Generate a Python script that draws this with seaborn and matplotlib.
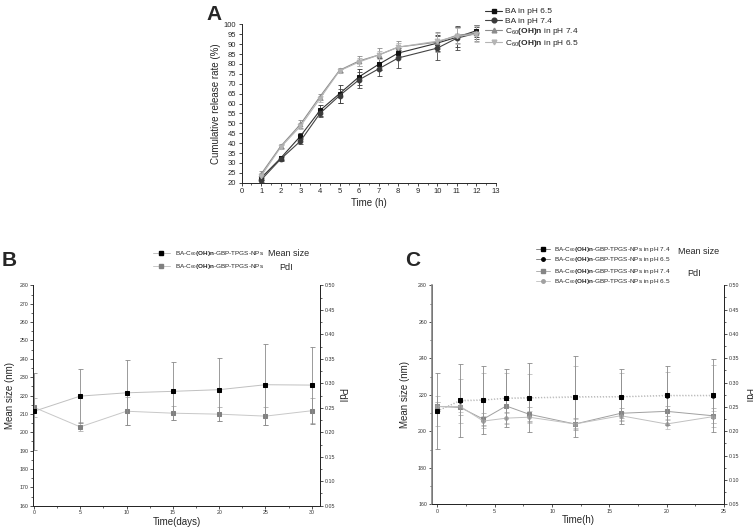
import numpy as np
import pandas as pd
import seaborn as sns
import matplotlib
matplotlib.use("Agg")
import matplotlib.pyplot as plt
from matplotlib.lines import Line2D
from matplotlib.ticker import MultipleLocator

# ---------------- Panel A data ----------------
time_a = [1, 2, 3, 4, 5, 6, 7, 8, 10, 11, 12]
ba_65 = [22.5, 32.5, 43.5, 56.5, 65.0, 73.5, 79.8, 85.5, 90.5, 93.5, 96.8]
ba_65_err = [1.0, 1.0, 1.5, 3.0, 4.5, 4.0, 3.0, 1.5, 4.0, 5.0, 3.0]
ba_74 = [21.5, 32.0, 41.0, 55.0, 64.0, 72.0, 77.5, 83.0, 88.0, 93.0, 95.5]
ba_74_err = [1.0, 1.0, 1.5, 2.0, 3.5, 4.0, 3.5, 5.0, 6.0, 6.0, 3.0]
c60_74 = [24.5, 38.5, 49.5, 63.5, 76.8, 81.5, 84.5, 88.5, 91.0, 94.5, 95.5]
c60_74_err = [1.5, 1.0, 2.0, 1.5, 1.0, 2.5, 3.5, 3.0, 5.0, 4.0, 4.0]
c60_65 = [23.5, 38.0, 48.5, 62.5, 76.5, 81.0, 84.5, 88.5, 91.5, 94.0, 95.0]
c60_65_err = [1.5, 1.0, 1.5, 1.5, 1.0, 2.0, 2.0, 2.0, 4.0, 4.0, 4.0]

# ---------------- Panel B data ----------------
days_b = [0, 5, 10, 15, 20, 25, 30]
size_b = [211.4, 219.7, 221.5, 222.3, 223.2, 225.9, 225.7]
size_b_err = [21.0, 14.6, 17.7, 15.8, 17.1, 22.0, 21.0]
pdi_b = [0.251, 0.211, 0.243, 0.239, 0.237, 0.233, 0.244]
pdi_b_err = [0.020, 0.009, 0.029, 0.014, 0.014, 0.019, 0.026]

# ---------------- Panel C data ----------------
hours_c = [0, 2, 4, 6, 8, 12, 16, 20, 24]
size_c_74 = [211.1, 217.0, 217.2, 218.2, 218.4, 219.0, 219.0, 219.7, 219.7]
size_c_74_err = [21.0, 20.0, 18.5, 16.0, 19.0, 22.0, 15.0, 16.0, 20.0]
size_c_65 = [211.1, 216.6, 217.0, 218.0, 218.2, 218.6, 218.8, 219.4, 219.4]
size_c_65_err = [8.0, 12.0, 15.0, 14.0, 13.0, 17.0, 13.0, 13.0, 17.0]
pdi_c_74 = [0.251, 0.249, 0.225, 0.252, 0.235, 0.215, 0.237, 0.241, 0.232]
pdi_c_74_err = [0.010, 0.015, 0.012, 0.012, 0.014, 0.012, 0.010, 0.010, 0.015]
pdi_c_65 = [0.251, 0.251, 0.221, 0.227, 0.229, 0.215, 0.232, 0.215, 0.230]
pdi_c_65_err = [0.010, 0.012, 0.010, 0.010, 0.012, 0.010, 0.008, 0.010, 0.012]

sns.set_style("ticks")
plt.rcParams["font.family"] = ["Liberation Sans", "DejaVu Sans"]
plt.rcParams["mathtext.fontset"] = "custom"
plt.rcParams["mathtext.rm"] = "Liberation Sans"
plt.rcParams["mathtext.it"] = "Liberation Sans:italic"
plt.rcParams["mathtext.bf"] = "Liberation Sans:bold"
plt.rcParams["axes.linewidth"] = 0.7
plt.rcParams["xtick.major.width"] = 0.6
plt.rcParams["ytick.major.width"] = 0.6
plt.rcParams["xtick.minor.width"] = 0.5
plt.rcParams["ytick.minor.width"] = 0.5

fig = plt.figure(figsize=(7.53, 5.29), dpi=100)

C60 = r"C$_{60}$$\mathbf{(OH)n}$"
NP = r"BA-C$_{60}$$\mathbf{(OH)n}$-GBP-TPGS-NPs"


def series(ax, x, y, err, marker, mcolor, lcolor, ms=4, lw=0.8, ls="-", ecolor=None):
    df = pd.DataFrame({"x": x, "y": y})
    sns.lineplot(data=df, x="x", y="y", ax=ax, color=lcolor, lw=lw, ls=ls,
                 marker=marker, markersize=ms, markerfacecolor=mcolor,
                 markeredgecolor=mcolor, legend=False, zorder=3)
    ax.errorbar(x, y, yerr=err, fmt="none", ecolor=ecolor or lcolor,
                elinewidth=0.6, capsize=1.8, capthick=0.6, zorder=2)


# ---------------- Panel A ----------------
axA = fig.add_axes([0.321, 0.6546, 0.3377, 0.2994])
series(axA, time_a, ba_65, ba_65_err, "s", "#111111", "#333333", ms=3.4)
series(axA, time_a, ba_74, ba_74_err, "o", "#3a3a3a", "#444444", ms=3.4)
series(axA, time_a, c60_74, c60_74_err, "^", "#8c8c8c", "#8c8c8c", ms=3.4)
series(axA, time_a, c60_65, c60_65_err, "v", "#b4b4b4", "#b4b4b4", ms=3.4)
axA.set_xlim(0, 13)
axA.set_ylim(20, 100)
axA.xaxis.set_major_locator(MultipleLocator(1))
axA.xaxis.set_minor_locator(MultipleLocator(0.5))
axA.yaxis.set_major_locator(MultipleLocator(5))
axA.tick_params(labelsize=5.5, length=2.5, pad=1.5)
axA.tick_params(which="minor", length=1.5)
sns.despine(ax=axA)
axA.set_xlabel("Time (h)", fontsize=7, labelpad=2)
axA.set_ylabel("Cumulative release rate (%)", fontsize=7, labelpad=2)
handlesA = [
    Line2D([], [], color="#333333", marker="s", ms=3.4, mfc="#111111", mec="#111111", lw=0.8),
    Line2D([], [], color="#444444", marker="o", ms=3.4, mfc="#3a3a3a", mec="#3a3a3a", lw=0.8),
    Line2D([], [], color="#8c8c8c", marker="^", ms=3.4, lw=0.8),
    Line2D([], [], color="#b4b4b4", marker="v", ms=3.4, lw=0.8),
]
fig.legend(handlesA, ["BA in pH 6.5", "BA in pH 7.4", C60 + " in pH 7.4", C60 + " in pH 6.5"],
           loc="upper left", bbox_to_anchor=(0.638, 0.995), frameon=False,
           fontsize=6, handlelength=2.0, labelspacing=0.15, handletextpad=0.4,
           borderpad=0.1)
fig.text(214 / 753, 1 - 15 / 529, "A", fontsize=15, fontweight="bold",
         ha="center", va="center")

# ---------------- Panel B ----------------
axB = fig.add_axes([0.0438, 0.044, 0.3813, 0.4165])
axB2 = axB.twinx()
series(axB, days_b, size_b, size_b_err, "s", "#000000", "#c0c0c0", ms=3, lw=0.7,
       ecolor="#8a8a8a")
series(axB2, days_b, pdi_b, pdi_b_err, "s", "#808080", "#c8c8c8", ms=2.5, lw=0.7,
       ecolor="#b0b0b0")
axB.set_xlim(-0.1, 30.9)
axB.set_ylim(160, 280)
axB2.set_ylim(0.05, 0.50)
axB.xaxis.set_major_locator(MultipleLocator(5))
axB.xaxis.set_minor_locator(MultipleLocator(2.5))
axB.yaxis.set_major_locator(MultipleLocator(10))
axB.yaxis.set_minor_locator(MultipleLocator(5))
axB2.yaxis.set_major_locator(MultipleLocator(0.05))
axB2.yaxis.set_minor_locator(MultipleLocator(0.025))
for a in (axB, axB2):
    a.tick_params(labelsize=3.8, length=2.2, pad=1.2, colors="#333333")
    a.tick_params(which="minor", length=1.3)
    a.spines["top"].set_visible(False)
axB2.yaxis.set_major_formatter(matplotlib.ticker.FormatStrFormatter("%.2f"))
axB.set_xlabel("Time(days)", fontsize=7, labelpad=1)
axB.set_ylabel("Mean size (nm)", fontsize=7, labelpad=3)
axB2.set_ylabel("PdI", fontsize=7, rotation=270, labelpad=8)
axB2.set_xlabel("")
axB.set_zorder(axB2.get_zorder() + 1)
axB.patch.set_visible(False)

handlesB = [
    Line2D([], [], color="#c0c0c0", marker="s", ms=2.5, mfc="k", mec="k", lw=0.7),
    Line2D([], [], color="#c8c8c8", marker="s", ms=2.5, mfc="#808080", mec="#808080", lw=0.7),
]
fig.legend(handlesB, [NP, NP], loc="upper left", bbox_to_anchor=(0.198, 1 - 245 / 529),
           frameon=False, fontsize=4.6, handlelength=2.6, labelspacing=0.7,
           handletextpad=0.8, borderpad=0.1)
fig.text(268 / 753, 1 - 254 / 529, "Mean size", fontsize=6.5, va="center")
fig.text(279 / 753, 1 - 267 / 529, "PdI", fontsize=6.5, va="center")
fig.text(9 / 753, 1 - 260 / 529, "B", fontsize=15, fontweight="bold",
         ha="center", va="center")

# ---------------- Panel C ----------------
axC = fig.add_axes([0.5733, 0.0467, 0.3882, 0.414])
axC2 = axC.twinx()
series(axC2, hours_c, pdi_c_74, pdi_c_74_err, "s", "#858585", "#a0a0a0", ms=2.5, lw=0.7,
       ecolor="#b0b0b0")
series(axC2, hours_c, pdi_c_65, pdi_c_65_err, "o", "#a0a0a0", "#c0c0c0", ms=2.5, lw=0.7,
       ecolor="#c4c4c4")
series(axC, hours_c, size_c_65, size_c_65_err, "o", "#1a1a1a", "#c8c8c8", ms=2.5, lw=0.8,
       ls=":", ecolor="#bdbdbd")
series(axC, hours_c, size_c_74, size_c_74_err, "s", "#000000", "#b8b8b8", ms=3, lw=0.8,
       ls=":", ecolor="#8a8a8a")
axC.set_xlim(-0.5, 25)
axC.set_ylim(160, 280)
axC2.set_ylim(0.05, 0.50)
axC.xaxis.set_major_locator(MultipleLocator(5))
axC.xaxis.set_minor_locator(MultipleLocator(2.5))
axC.yaxis.set_major_locator(MultipleLocator(20))
axC.yaxis.set_minor_locator(MultipleLocator(10))
axC2.yaxis.set_major_locator(MultipleLocator(0.05))
axC2.yaxis.set_minor_locator(MultipleLocator(0.025))
for a in (axC, axC2):
    a.tick_params(labelsize=3.8, length=2.2, pad=1.2, colors="#333333")
    a.tick_params(which="minor", length=1.3)
    a.spines["top"].set_visible(False)
axC.spines["left"].set_linewidth(1.2)
axC.spines["left"].set_color("#888888")
axC2.yaxis.set_major_formatter(matplotlib.ticker.FormatStrFormatter("%.2f"))
axC.set_xlabel("Time(h)", fontsize=7, labelpad=1)
axC.set_ylabel("Mean size (nm)", fontsize=7, labelpad=6)
axC2.set_ylabel("PdI", fontsize=7, rotation=270, labelpad=10)
axC2.set_xlabel("")
axC.set_zorder(axC2.get_zorder() + 1)
axC.patch.set_visible(False)

handlesC1 = [
    Line2D([], [], color="#888888", marker="s", ms=2.5, mfc="k", mec="k", lw=0.7),
    Line2D([], [], color="#888888", marker="o", ms=2.5, mfc="k", mec="k", lw=0.7),
]
handlesC2 = [
    Line2D([], [], color="#b0b0b0", marker="s", ms=2.5, mfc="#858585", mec="#858585", lw=0.7),
    Line2D([], [], color="#c8c8c8", marker="o", ms=2.5, mfc="#a0a0a0", mec="#a0a0a0", lw=0.7),
]
fig.legend(handlesC1, [NP + " in pH 7.4", NP + " in pH 6.5"], loc="upper left",
           bbox_to_anchor=(0.537 + 0.17, 1 - 241 / 529), frameon=False, fontsize=4.6,
           handlelength=2.2, labelspacing=0.25, handletextpad=0.6, borderpad=0.1)
fig.legend(handlesC2, [NP + " in pH 7.4", NP + " in pH 6.5"], loc="upper left",
           bbox_to_anchor=(0.537 + 0.17, 1 - 263 / 529), frameon=False, fontsize=4.6,
           handlelength=2.2, labelspacing=0.25, handletextpad=0.6, borderpad=0.1)
fig.text(678 / 753, 1 - 252 / 529, "Mean size", fontsize=6.5, va="center")
fig.text(687 / 753, 1 - 273 / 529, "PdI", fontsize=6.5, va="center")
fig.text(413 / 753, 1 - 261 / 529, "C", fontsize=15, fontweight="bold",
         ha="center", va="center")

fig.savefig("out.png", dpi=100)
